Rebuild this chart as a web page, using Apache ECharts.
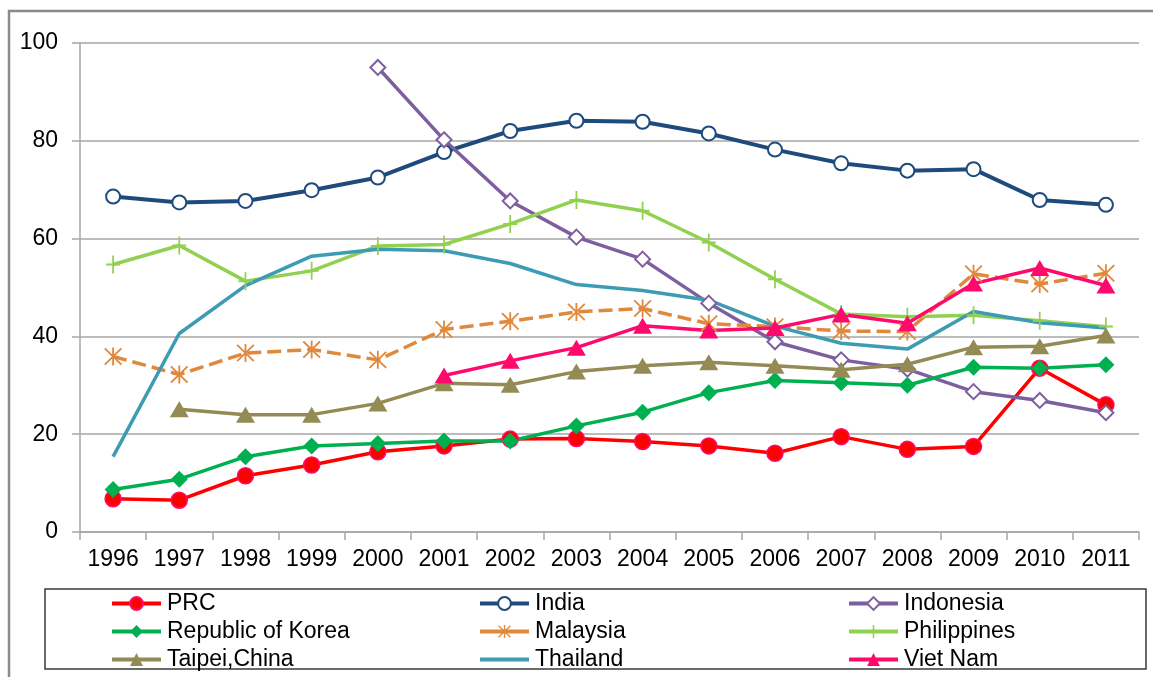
<!DOCTYPE html>
<html>
<head>
<meta charset="utf-8">
<title>Share by economy, 1996-2011</title>
<script src="https://cdn.jsdelivr.net/npm/echarts@6/dist/echarts.min.js"></script>
<style>
  html, body { margin: 0; padding: 0; background: #ffffff; }
  #chart { width: 1153px; height: 677px; }
</style>
</head>
<body>
<div id="chart"></div>
<script>
// Category axis
const years = ['1996','1997','1998','1999','2000','2001','2002','2003',
               '2004','2005','2006','2007','2008','2009','2010','2011'];

// Y-axis ticks
const yTicks = [0, 20, 40, 60, 80, 100];

// Series values (null = no observation)
const prc       = [6.8, 6.5, 11.5, 13.7, 16.4, 17.6, 19.0, 19.1, 18.5, 17.6, 16.1, 19.5, 16.9, 17.5, 33.5, 26.0];
const india     = [68.6, 67.4, 67.7, 69.9, 72.5, 77.7, 82.0, 84.1, 83.9, 81.5, 78.2, 75.4, 73.9, 74.2, 67.9, 66.9];
const indonesia = [null, null, null, null, 95.0, 80.2, 67.7, 60.3, 55.8, 46.8, 38.9, 35.2, 33.3, 28.7, 26.9, 24.4];
const korea     = [8.7, 10.8, 15.4, 17.6, 18.1, 18.6, 18.6, 21.7, 24.5, 28.5, 31.0, 30.5, 30.0, 33.7, 33.5, 34.2];
const malaysia  = [35.9, 32.2, 36.6, 37.3, 35.2, 41.4, 43.1, 45.0, 45.7, 42.6, 42.0, 41.1, 41.0, 52.8, 50.7, 52.9];
const philippines = [54.7, 58.6, 51.3, 53.4, 58.5, 58.8, 63.0, 67.9, 65.7, 59.2, 51.7, 44.6, 44.0, 44.3, 43.2, 42.0];
const thailand  = [15.4, 40.6, 50.4, 56.4, 57.8, 57.5, 54.9, 50.6, 49.4, 47.4, 42.1, 38.6, 37.4, 45.1, 42.8, 41.7];
const taipei    = [null, 25.1, 24.0, 24.0, 26.3, 30.4, 30.1, 32.8, 34.0, 34.7, 34.0, 33.2, 34.3, 37.8, 38.0, 40.2];
const vietnam   = [null, null, null, null, null, 32.0, 35.0, 37.7, 42.2, 41.2, 41.7, 44.5, 42.7, 50.8, 54.0, 50.4];

// Marker outlines built from thin bars (filled paths)
function barPath(x1, y1, x2, y2, w) {
  const dx = x2 - x1, dy = y2 - y1;
  const len = Math.sqrt(dx * dx + dy * dy);
  const nx = -dy / len * w / 2, ny = dx / len * w / 2;
  const p = [[x1 - nx, y1 - ny], [x2 - nx, y2 - ny], [x2 + nx, y2 + ny], [x1 + nx, y1 + ny]];
  return 'M' + p.map(q => q[0].toFixed(2) + ',' + q[1].toFixed(2)).join('L') + 'Z';
}
const starSymbol = 'path://' +
  barPath(0, -10, 0, 10, 2) +
  barPath(-9, -9, 9, 9, 2) +
  barPath(9, -9, -9, 9, 2);
const plusSymbol = 'path://' +
  barPath(0, -9, 0, 9, 2) +
  barPath(-8, 0, 8, 0, 2);

function lineSeries(name, data, color, opts) {
  return Object.assign({
    name: name,
    type: 'line',
    data: data,
    connectNulls: false,
    animation: false,
    lineStyle: { color: color, width: 3.5 },
    itemStyle: { color: color },
    emphasis: { disabled: true }
  }, opts);
}

const series = [
  lineSeries('PRC', prc, '#ff0000', {
    symbol: 'circle', symbolSize: 16,
    itemStyle: { color: '#ff0000', borderColor: '#ff0a6c', borderWidth: 1.5 }
  }),
  lineSeries('India', india, '#1f4a7c', {
    symbol: 'circle', symbolSize: 14, lineStyle: { color: '#1f4a7c', width: 4 },
    itemStyle: { color: '#ffffff', borderColor: '#1f4a7c', borderWidth: 2 }
  }),
  lineSeries('Indonesia', indonesia, '#7d5f9f', {
    symbol: 'diamond', symbolSize: 15,
    itemStyle: { color: '#ffffff', borderColor: '#7d5f9f', borderWidth: 2 }
  }),
  lineSeries('Republic of Korea', korea, '#00b050', {
    symbol: 'diamond', symbolSize: 17
  }),
  lineSeries('Malaysia', malaysia, '#e0893d', {
    symbol: starSymbol, symbolSize: 18,
    lineStyle: { color: '#e0893d', width: 3.5, type: [14, 6] }
  }),
  lineSeries('Philippines', philippines, '#92d050', {
    symbol: plusSymbol, symbolSize: [14, 18]
  }),
  lineSeries('Thailand', thailand, '#3d9bb3', {
    symbol: 'none'
  }),
  lineSeries('Taipei,China', taipei, '#948a54', {
    symbol: 'triangle', symbolSize: [19, 16]
  }),
  lineSeries('Viet Nam', vietnam, '#ff0a6c', {
    symbol: 'triangle', symbolSize: [19, 16]
  })
];

const axisGray = '#a6a6a6';
const font = 'Liberation Sans, Arial, sans-serif';

function legendColumn(left, names) {
  return {
    orient: 'vertical',
    left: left,
    top: 592,
    padding: 0,
    itemWidth: 49,
    itemHeight: 16,
    itemGap: 5,
    selectedMode: false,
    lineStyle: { width: 4, type: 'solid' },
    data: names,
    textStyle: { fontFamily: font, fontSize: 23, color: '#000', lineHeight: 22, padding: [0, 0, 0, 1] }
  };
}

const chart = echarts.init(document.getElementById('chart'), null, { renderer: 'canvas' });
chart.setOption({
  backgroundColor: '#ffffff',
  animation: false,
  textStyle: { fontFamily: font },
  graphic: [
    { type: 'rect', z: -1, silent: true,
      shape: { x: 9, y: 11, width: 1160, height: 690 },
      style: { fill: null, stroke: '#8a8a8a', lineWidth: 2.5 } },
    { type: 'rect', z: -1, silent: true,
      shape: { x: 45, y: 589, width: 1101, height: 80 },
      style: { fill: null, stroke: '#3a3a3a', lineWidth: 1.5 } }
  ],
  grid: { left: 80, right: 14, top: 43, bottom: 145, containLabel: false },
  legend: [
    legendColumn(110, ['PRC', 'Republic of Korea', 'Taipei,China']),
    legendColumn(478, ['India', 'Malaysia',
      // plain line key: hide the default marker
      { name: 'Thailand', itemStyle: { color: 'rgba(0,0,0,0)', borderWidth: 0 } }]),
    legendColumn(847, ['Indonesia', 'Philippines', 'Viet Nam'])
  ],
  xAxis: {
    type: 'category',
    data: years,
    boundaryGap: true,
    axisLine: { show: true, lineStyle: { color: axisGray, width: 1.5 } },
    axisTick: { show: true, length: 8, interval: 0, lineStyle: { color: axisGray, width: 1.5 } },
    axisLabel: { interval: 0, margin: 16, fontSize: 23, color: '#000', fontFamily: font },
    splitLine: { show: false }
  },
  yAxis: {
    type: 'value',
    min: yTicks[0],
    max: yTicks[yTicks.length - 1],
    interval: yTicks[1] - yTicks[0],
    axisLine: { show: true, lineStyle: { color: axisGray, width: 1.5 } },
    axisTick: { show: true, length: 8, lineStyle: { color: axisGray, width: 1.5 } },
    axisLabel: { margin: 22, fontSize: 23, color: '#000', fontFamily: font },
    splitLine: { show: true, lineStyle: { color: axisGray, width: 1.5 } }
  },
  tooltip: { show: false },
  series: series
});
</script>
</body>
</html>
